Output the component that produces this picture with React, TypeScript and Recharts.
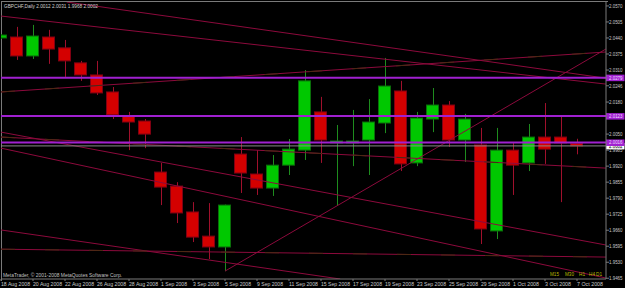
import React from 'react';
import { ComposedChart, Bar, XAxis, YAxis, ReferenceLine } from 'recharts';

// GBPCHF daily bars, 18 Aug - 7 Oct 2008
const dates = [
  '18 Aug 2008', '19 Aug 2008', '20 Aug 2008', '21 Aug 2008', '22 Aug 2008', '25 Aug 2008', '26 Aug 2008',
  '27 Aug 2008', '28 Aug 2008', '29 Aug 2008', '1 Sep 2008', '2 Sep 2008', '3 Sep 2008', '4 Sep 2008',
  '5 Sep 2008', '8 Sep 2008', '9 Sep 2008', '10 Sep 2008', '11 Sep 2008', '12 Sep 2008', '15 Sep 2008',
  '16 Sep 2008', '17 Sep 2008', '18 Sep 2008', '19 Sep 2008', '22 Sep 2008', '23 Sep 2008', '24 Sep 2008',
  '25 Sep 2008', '26 Sep 2008', '29 Sep 2008', '30 Sep 2008', '1 Oct 2008', '2 Oct 2008', '3 Oct 2008',
  '6 Oct 2008', '7 Oct 2008',
];
const opens = [
  2.044, 2.0444, 2.0367, 2.0444, 2.04, 2.0339, 2.029, 2.0221, 2.0123, 2.0103, 1.9896, 1.9839, 1.9734,
  1.9636, 1.9592, 1.9969, 1.9888, 1.9831, 1.9924, 1.9985, 2.014, 2.0014, 2.0014, 2.0026, 2.0095, 2.0225,
  1.9933, 2.0111, 2.0168, 2.0026, 2.0006, 1.9657, 1.9985, 1.9933, 2.0038, 2.0038, 2.0012,
];
const highs = [
  2.0455, 2.0485, 2.0493, 2.0473, 2.0432, 2.0347, 2.0347, 2.0241, 2.014, 2.0111, 1.9933, 1.9855, 1.9774,
  1.977, 1.9764, 2.0038, 1.9985, 1.9965, 2.003, 2.031, 2.0201, 2.0087, 2.0148, 2.0192, 2.0359, 2.0266,
  2.014, 2.0237, 2.0184, 2.0132, 2.0075, 2.0075, 2.0018, 2.0091, 2.0176, 2.0123, 2.0031,
];
const lows = [
  2.0436, 2.0351, 2.0355, 2.0335, 2.0282, 2.0266, 2.0209, 2.0111, 1.9985, 1.9993, 1.9762, 1.9689, 1.9612,
  1.9543, 1.9494, 1.9811, 1.9803, 1.9799, 1.9884, 1.9945, 1.9933, 1.9762, 1.992, 1.9884, 2.0054, 1.99,
  1.992, 2.0058, 1.9998, 1.9937, 1.9604, 1.9624, 1.9803, 1.99, 1.9929, 1.9774, 1.9968,
];
const closes = [
  2.0452, 2.0367, 2.0448, 2.0395, 2.0347, 2.029, 2.0217, 2.0128, 2.0099, 2.005, 1.9835, 1.973, 1.9632,
  1.9592, 1.9762, 1.9892, 1.9831, 1.9924, 1.9989, 2.0266, 2.0026, 2.0022, 2.0022, 2.0099, 2.0245, 1.9929,
  2.0115, 2.0168, 2.0026, 2.0111, 1.9665, 1.9985, 1.9924, 2.0038, 1.9989, 2.0014, 2.0002,
];

const priceTicks = [
  2.057, 2.0505, 2.044, 2.0375, 2.031, 2.0246, 2.018, 2.005, 1.9985, 1.992, 1.9855, 1.979, 1.9725,
  1.966, 1.9595, 1.953, 1.9465,
];
const levels = [2.0279, 2.0123, 2.0016];
const bid = 2.0002;
const timeframes = ['M15', 'M30', 'H1', 'H4', 'D1'];

// trend lines drawn on the chart: [barIndex, price] -> [barIndex, price]
const trendLines = [
  { x1: 4.1, y1: 2.0586, x2: 37.8, y2: 2.0277 },
  { x1: 0, y1: 2.0529, x2: 37.8, y2: 2.0253 },
  { x1: 0, y1: 2.0221, x2: 37.8, y2: 2.0383, dotted: true },
  { x1: 14, y1: 1.9494, x2: 37.8, y2: 2.0395 },
  { x1: 0, y1: 2.0038, x2: 37.8, y2: 1.9912, dotted: true },
  { x1: 0, y1: 2.0058, x2: 37.8, y2: 1.96 },
  { x1: 0, y1: 1.9993, x2: 37.8, y2: 1.9466 },
  { x1: 0, y1: 1.9583, x2: 37.8, y2: 1.9551, dotted: true },
  { x1: 0, y1: 1.9661, x2: 21.2, y2: 1.9462 },
];

const data = dates.map((d, i) => ({
  i,
  date: d,
  open: opens[i],
  high: highs[i],
  low: lows[i],
  close: closes[i],
  range: [lows[i], highs[i]],
}));

const dateTicks = dates.map((_, i) => i).filter(i => i % 2 === 0);

const FONT = '"Liberation Sans", Arial, sans-serif';
const LINE = '#8c0a3c';
const PURPLE = '#a020d0';

function Candle(props: any) {
  const { x, y, width, height, payload } = props;
  const { open, close, high, low } = payload;
  const top = Math.min(y, y + height);
  const h = Math.abs(height);
  const py = (v: number) => top + ((high - v) / (high - low || 1)) * h;
  const up = close >= open;
  const bTop = py(Math.max(open, close));
  const bBot = py(Math.min(open, close));
  const cx = Math.round(x + width / 2) + 0.5;
  return (
    <g>
      <line x1={cx} x2={cx} y1={top} y2={top + h} stroke={up ? '#1e8c1e' : '#a0102c'} strokeWidth={1} />
      <rect
        x={Math.round(x) + 0.5}
        y={bTop}
        width={width - 1}
        height={Math.max(1.5, bBot - bTop)}
        fill={up ? '#00c800' : '#d40000'}
        stroke={up ? '#0a6e0a' : '#800012'}
        strokeWidth={1}
      />
    </g>
  );
}

function PriceTick({ x, y, payload }: any) {
  return (
    <text x={x} y={y} dy={2} fill="#c8c8c8" fontSize={5} fontFamily={FONT} textAnchor="start"
      textLength={13.5} lengthAdjust="spacingAndGlyphs">
      {payload.value.toFixed(4)}
    </text>
  );
}

function DateTick({ x, y, payload }: any) {
  const label = dates[payload.value];
  return (
    <text x={x} y={y} dy={5} fill="#c8c8c8" fontSize={5.8} fontFamily={FONT} textAnchor="start"
      textLength={label.length > 10 ? 29 : 26} lengthAdjust="spacingAndGlyphs">
      {label}
    </text>
  );
}

function Tag({ viewBox, text, bg, fg }: any) {
  const x = viewBox.x + viewBox.width;
  const y = viewBox.y;
  return (
    <g>
      <rect x={x} y={y - 3} width={18.5} height={6.5} fill={bg} />
      <text x={x + 3} y={y} dy={2} fill={fg} fontSize={5} fontFamily={FONT}
        textLength={13.5} lengthAdjust="spacingAndGlyphs">
        {text}
      </text>
    </g>
  );
}

export default function App() {
  return (
    <div style={{ position: 'absolute', left: 0, top: 0, width: 625, height: 288, background: '#000' }}>
      <div style={{ position: 'absolute', left: 1, top: 1, width: 606, height: 279, borderTop: '1px solid #7a7a7a', borderLeft: '1px solid #7a7a7a' }} />
      <ComposedChart width={625} height={288} data={data} margin={{ top: 2, right: 0, bottom: 0, left: 1 }}>
        <XAxis
          type="number"
          dataKey="i"
          domain={[0, 37.8125]}
          allowDataOverflow
          ticks={dateTicks}
          interval={0}
          tick={<DateTick />}
          height={9}
          tickSize={2}
          tickMargin={0}
          axisLine={{ stroke: '#7a7a7a' }}
          tickLine={{ stroke: '#7a7a7a' }}
        />
        <YAxis
          orientation="right"
          domain={[1.9462, 2.0586]}
          allowDataOverflow
          ticks={priceTicks}
          interval={0}
          tick={<PriceTick />}
          width={19}
          tickSize={3}
          tickMargin={0}
          axisLine={{ stroke: '#7a7a7a' }}
          tickLine={{ stroke: '#7a7a7a' }}
        />
        {trendLines.map((l, k) => (
          <ReferenceLine
            key={'t' + k}
            segment={[{ x: l.x1, y: l.y1 }, { x: l.x2, y: l.y2 }]}
            stroke={LINE}
            strokeWidth={1}
            ifOverflow="hidden"
          />
        ))}
        {trendLines.filter(l => l.dotted).map((l, k) => (
          <ReferenceLine
            key={'d' + k}
            segment={[{ x: l.x1, y: l.y1 }, { x: l.x2, y: l.y2 }]}
            stroke="#4a2a12"
            strokeWidth={1}
            strokeDasharray="14 30"
            ifOverflow="hidden"
          />
        ))}
        <ReferenceLine y={bid} stroke="#8a8a8a" strokeWidth={1} label={<Tag text={bid.toFixed(4)} bg="#ffffff" fg="#000000" />} />
        {levels.map(v => (
          <ReferenceLine
            key={v}
            y={v}
            stroke={PURPLE}
            strokeWidth={2}
            label={<Tag text={v.toFixed(4)} bg={PURPLE} fg="#eedcff" />}
          />
        ))}
        <Bar dataKey="range" barSize={13} shape={<Candle />} isAnimationActive={false} />
      </ComposedChart>
      <svg width={625} height={288} style={{ position: 'absolute', left: 0, top: 0, pointerEvents: 'none' }}>
        <text x={4} y={8} fill="#d0d0d0" fontSize={6} fontFamily={FONT} textLength={94} lengthAdjust="spacingAndGlyphs">
          GBPCHF,Daily  2.0012 2.0031 1.9968 2.0002
        </text>
        <text x={3} y={277} fill="#c0c0c0" fontSize={5.8} fontFamily={FONT} textLength={119} lengthAdjust="spacingAndGlyphs">
          MetaTrader, © 2001-2008 MetaQuotes Software Corp.
        </text>
        {timeframes.map((t, k) => (
          <text key={t} x={[550, 565, 579, 589, 596][k]} y={276} fill="#b8b800" fontSize={5.8} fontFamily={FONT}
            textLength={t.length > 2 ? 9 : 6} lengthAdjust="spacingAndGlyphs">
            {t}
          </text>
        ))}
      </svg>
    </div>
  );
}
